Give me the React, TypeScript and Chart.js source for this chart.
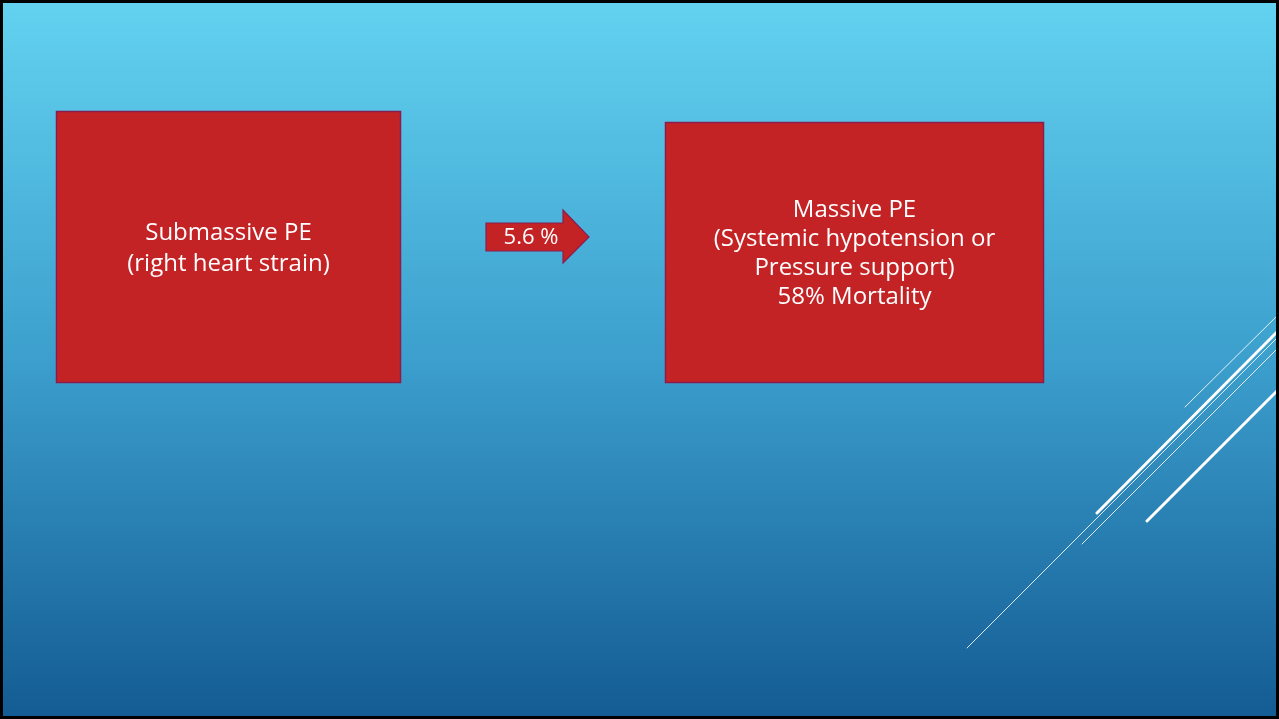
import React, { useEffect, useRef } from "react";
import { Chart, registerables } from "chart.js";

Chart.register(...registerables);

// Slide geometry expressed in slide units (x: 0..1279, y: 0..719, y grows downward)
const boxLabels = ["Submassive PE", "Massive PE"];
const boxX0 = [56, 665];
const boxX1 = [401, 1044];
const boxY0 = [111, 122];
const boxY1 = [383, 383];
const boxText: string[][] = [
  ["Submassive PE", "(right heart strain)"],
  ["Massive PE", "(Systemic hypotension or", "Pressure support)", "58% Mortality"],
];
const boxTextCenterY = [249, 254];

const arrowLabel = "5.6 %";
const arrowXs = [486, 563, 589]; // tail, head base, tip
const arrowYs = [223, 251, 210, 263, 237]; // body top, body bottom, head top, head bottom, tip

const decoX0 = [1185, 1097, 967, 1082, 1147];
const decoY0 = [407, 513, 648, 544, 521];
const decoX1 = [1278, 1278, 1278, 1278, 1278];
const decoY1 = [315, 331, 337, 348, 390];
const decoWidth = [1, 3, 1, 1, 3];

const FONT = "'Open Sans', 'DejaVu Sans', sans-serif";

const slidePlugin = {
  id: "slide",
  beforeDraw(chart: any) {
    const { ctx, scales } = chart;
    const xs = scales.x;
    const ys = scales.y;
    const X = (v: number) => xs.getPixelForValue(v);
    const Y = (v: number) => ys.getPixelForValue(v);
    ctx.save();
    // background gradient
    const g = ctx.createLinearGradient(0, Y(0), 0, Y(719));
    g.addColorStop(0, "#63d2f0");
    g.addColorStop(0.5, "#3c9fcd");
    g.addColorStop(1, "#135b93");
    ctx.fillStyle = g;
    ctx.fillRect(X(0), Y(0), X(1279) - X(0), Y(719) - Y(0));

    // decorative lines
    ctx.strokeStyle = "#ffffff";
    ctx.lineCap = "round";
    for (let i = 0; i < decoX0.length; i++) {
      ctx.lineWidth = decoWidth[i];
      ctx.globalAlpha = decoWidth[i] > 1 ? 1 : 0.85;
      ctx.beginPath();
      ctx.moveTo(X(decoX0[i]), Y(decoY0[i]));
      ctx.lineTo(X(decoX1[i]), Y(decoY1[i]));
      ctx.stroke();
    }
    ctx.globalAlpha = 1;

    // boxes
    for (let i = 0; i < boxLabels.length; i++) {
      const x0 = X(boxX0[i]);
      const y0 = Y(boxY0[i]);
      const w = X(boxX1[i]) - x0;
      const h = Y(boxY1[i]) - y0;
      ctx.fillStyle = "#c42326";
      ctx.fillRect(x0, y0, w, h);
      ctx.strokeStyle = "#8a1d4e";
      ctx.lineWidth = 1.5;
      ctx.strokeRect(x0 + 0.5, y0 + 0.5, w - 1, h - 1);
      const lines = boxText[i];
      const lh = i === 0 ? 31 : 29;
      ctx.fillStyle = "#ffffff";
      ctx.font = `24px ${FONT}`;
      ctx.textAlign = "center";
      ctx.textBaseline = "middle";
      const cx = (X(boxX0[i]) + X(boxX1[i])) / 2;
      const cy = Y(boxTextCenterY[i]);
      const start = cy - ((lines.length - 1) * lh) / 2;
      lines.forEach((t, k) => ctx.fillText(t, cx, start + k * lh));
    }

    // arrow
    ctx.beginPath();
    ctx.moveTo(X(arrowXs[0]), Y(arrowYs[0]));
    ctx.lineTo(X(arrowXs[1]), Y(arrowYs[0]));
    ctx.lineTo(X(arrowXs[1]), Y(arrowYs[2]));
    ctx.lineTo(X(arrowXs[2]), Y(arrowYs[4]));
    ctx.lineTo(X(arrowXs[1]), Y(arrowYs[3]));
    ctx.lineTo(X(arrowXs[1]), Y(arrowYs[1]));
    ctx.lineTo(X(arrowXs[0]), Y(arrowYs[1]));
    ctx.closePath();
    ctx.fillStyle = "#c42326";
    ctx.fill();
    ctx.strokeStyle = "#8a1d4e";
    ctx.lineWidth = 1.2;
    ctx.stroke();
    ctx.fillStyle = "#ffffff";
    ctx.font = `22px ${FONT}`;
    ctx.textAlign = "center";
    ctx.textBaseline = "middle";
    ctx.fillText(arrowLabel, X(531), Y(238));

    // slide frame
    ctx.strokeStyle = "#000000";
    ctx.lineWidth = 3;
    ctx.strokeRect(X(0) + 1.5, Y(0) + 1.5, X(1279) - X(0) - 3, Y(719) - Y(0) - 3);
    ctx.restore();
  },
};

export default function App() {
  const ref = useRef<HTMLCanvasElement>(null);
  useEffect(() => {
    document.body.style.margin = "0";
    if (!ref.current) return;
    const chart = new Chart(ref.current, {
      type: "scatter",
      data: { datasets: [{ data: [], pointRadius: 0 }] },
      options: {
        animation: false,
        responsive: false,
        maintainAspectRatio: false,
        layout: { padding: 0 },
        plugins: { legend: { display: false }, tooltip: { enabled: false } },
        scales: {
          x: { type: "linear", min: 0, max: 1279, display: false },
          y: { type: "linear", min: 0, max: 719, reverse: true, display: false },
        },
      },
      plugins: [slidePlugin],
    });
    return () => chart.destroy();
  }, []);
  return (
    <div style={{ position: "fixed", left: 0, top: 0, width: 1279, height: 719 }}>
      <canvas ref={ref} width={1279} height={719} style={{ display: "block" }} />
    </div>
  );
}
